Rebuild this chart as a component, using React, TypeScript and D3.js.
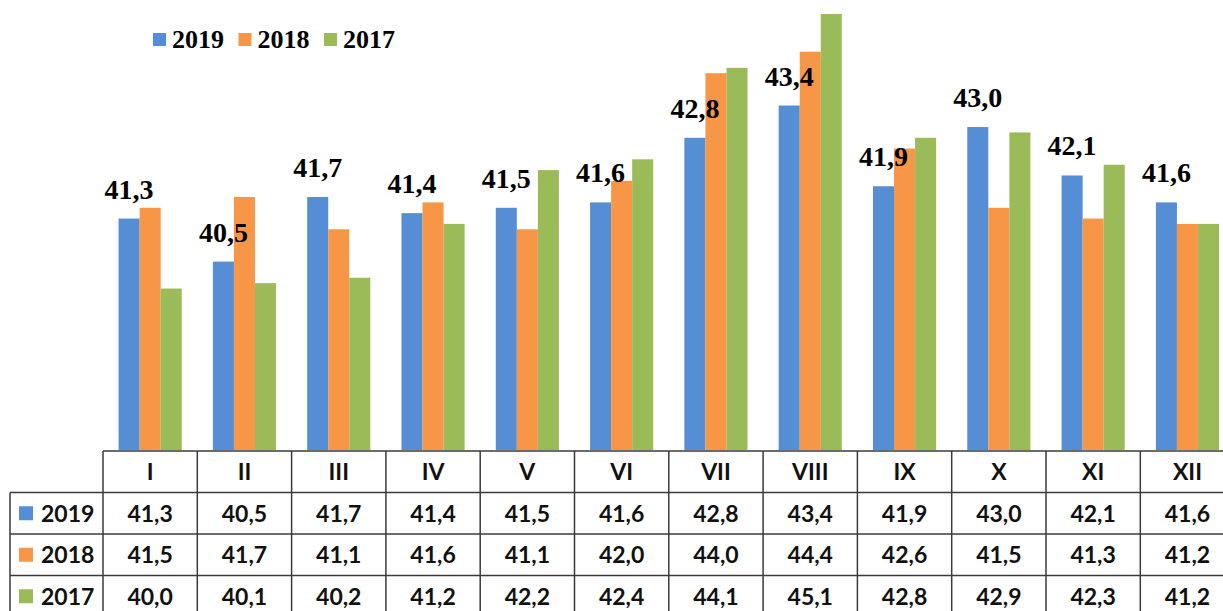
import React from "react";
import * as d3 from "d3";

const MONTHS = ["I", "II", "III", "IV", "V", "VI", "VII", "VIII", "IX", "X", "XI", "XII"];
const SERIES = ["2019", "2018", "2017"];
const VALUES_2019 = [41.3, 40.5, 41.7, 41.4, 41.5, 41.6, 42.8, 43.4, 41.9, 43.0, 42.1, 41.6];
const VALUES_2018 = [41.5, 41.7, 41.1, 41.6, 41.1, 42.0, 44.0, 44.4, 42.6, 41.5, 41.3, 41.2];
const VALUES_2017 = [40.0, 40.1, 40.2, 41.2, 42.2, 42.4, 44.1, 45.1, 42.8, 42.9, 42.3, 41.2];
const COLORS = ["#558ED5", "#F79646", "#9BBB59"];

const WIDTH = 1223;
const HEIGHT = 611;
const TABLE_LEFT = 103;
const COL_W = 94.3;
const BASE_Y = 450;
const ROW_H = 41.5;
const LEGEND_COL_X = 10;

const fmt = (v: number) => v.toFixed(1).replace(".", ",");

export default function App() {
  const values = [VALUES_2019, VALUES_2018, VALUES_2017];

  const x = d3
    .scaleBand()
    .domain(MONTHS)
    .range([TABLE_LEFT, TABLE_LEFT + COL_W * MONTHS.length])
    .paddingInner(0)
    .paddingOuter(0);

  const xInner = d3
    .scaleBand()
    .domain(SERIES)
    .range([0, x.bandwidth()])
    .paddingInner(0)
    .paddingOuter(0.74);

  const y = d3.scaleLinear().domain([37, 45.1]).range([BASE_Y, 14]);

  const tableTop = BASE_Y + 1;
  const tableRight = TABLE_LEFT + COL_W * MONTHS.length;
  const lineColor = "#3a3a3a";
  const tableFont = "Lato, 'Open Sans', sans-serif";
  const serif = "'Liberation Serif', 'DejaVu Serif', serif";

  return (
    <svg
      width={WIDTH}
      height={HEIGHT}
      style={{ position: "absolute", left: 0, top: 0, background: "#fff" }}
    >
      {/* legend */}
      <g>
        {SERIES.map((s, i) => {
          const lx = 153 + i * 85.5;
          return (
            <g key={s}>
              <rect x={lx} y={33} width={13} height={13} fill={COLORS[i]} />
              <text
                x={lx + 19}
                y={48}
                fontFamily={serif}
                fontWeight="bold"
                fontSize={26}
                fill="#000"
              >
                {s}
              </text>
            </g>
          );
        })}
      </g>

      {/* bars */}
      {MONTHS.map((m, mi) => (
        <g key={m} transform={`translate(${x(m)},0)`}>
          {SERIES.map((s, si) => (
            <rect
              key={s}
              x={xInner(s)}
              y={y(values[si][mi])}
              width={xInner.bandwidth()}
              height={BASE_Y - y(values[si][mi])}
              fill={COLORS[si]}
            />
          ))}
          <text
            x={(xInner("2019") ?? 0) + xInner.bandwidth() / 2}
            y={y(VALUES_2019[mi]) - 20}
            textAnchor="middle"
            fontFamily={serif}
            fontWeight="bold"
            fontSize={28}
            fill="#000"
          >
            {fmt(VALUES_2019[mi])}
          </text>
        </g>
      ))}

      {/* data table */}
      <g stroke={lineColor} strokeWidth={1.5} fill="none">
        <line x1={TABLE_LEFT} x2={tableRight} y1={tableTop} y2={tableTop} />
        {SERIES.map((s, i) => (
          <line
            key={s}
            x1={LEGEND_COL_X}
            x2={tableRight}
            y1={tableTop + ROW_H * (i + 1)}
            y2={tableTop + ROW_H * (i + 1)}
          />
        ))}
        <line x1={LEGEND_COL_X} x2={LEGEND_COL_X} y1={tableTop + ROW_H} y2={HEIGHT + 5} />
        {MONTHS.map((m) => (
          <line key={m} x1={x(m)} x2={x(m)} y1={tableTop} y2={HEIGHT + 5} />
        ))}
        <line x1={tableRight} x2={tableRight} y1={tableTop} y2={HEIGHT + 5} />
      </g>

      {MONTHS.map((m) => (
        <text
          key={m}
          x={(x(m) ?? 0) + x.bandwidth() / 2}
          y={tableTop + ROW_H / 2}
          dy="0.36em"
          textAnchor="middle"
          fontFamily={tableFont}
          fontWeight="bold"
          fontSize={23}
          fill="#111"
        >
          {m}
        </text>
      ))}

      {SERIES.map((s, si) => {
        const cy = tableTop + ROW_H * (si + 1) + ROW_H / 2;
        return (
          <g key={s}>
            <rect x={19} y={cy - 7} width={14} height={14} fill={COLORS[si]} />
            <text
              x={41}
              y={cy}
              dy="0.36em"
              fontFamily={tableFont}
              fontWeight="bold"
              fontSize={23}
              fill="#111"
            >
              {s}
            </text>
            {MONTHS.map((m, mi) => (
              <text
                key={m}
                x={(x(m) ?? 0) + x.bandwidth() / 2}
                y={cy}
                dy="0.36em"
                textAnchor="middle"
                fontFamily={tableFont}
                fontWeight="bold"
                fontSize={23}
                fill="#111"
              >
                {fmt(values[si][mi])}
              </text>
            ))}
          </g>
        );
      })}
    </svg>
  );
}
